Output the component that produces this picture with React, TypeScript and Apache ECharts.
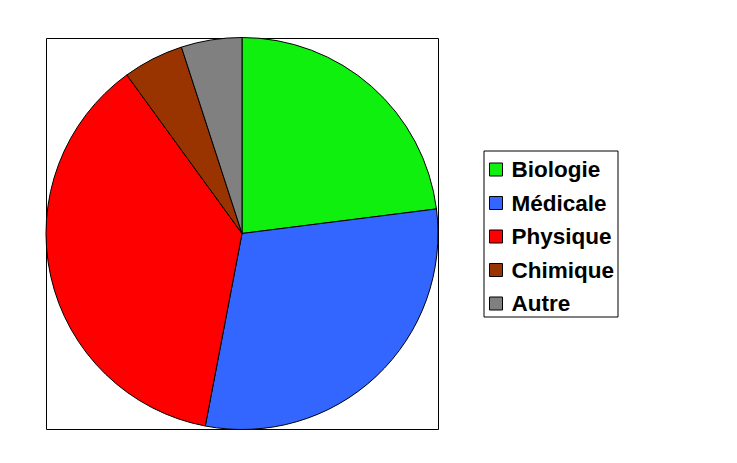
import React, { useEffect, useRef } from "react";
import * as echarts from "echarts";

const categories = ["Biologie", "Médicale", "Physique", "Chimique", "Autre"];
const values = [23, 30, 37, 5, 5];
const colors = ["#0ff00f", "#3366ff", "#ff0000", "#993300", "#808080"];

export default function App() {
  const ref = useRef<HTMLDivElement>(null);
  useEffect(() => {
    document.body.style.margin = "0";
    const chart = echarts.init(ref.current!, undefined, { renderer: "svg" });
    chart.setOption({
      animation: false,
      backgroundColor: "#ffffff",
      graphic: [
        {
          type: "rect",
          z: -1,
          shape: { x: 46.5, y: 38.5, width: 392, height: 391 },
          style: { fill: "none", stroke: "#000", lineWidth: 1 },
        },
      ],
      legend: {
        orient: "vertical",
        left: 484,
        top: 151,
        padding: [7, 4, 2, 5],
        borderColor: "#000",
        borderWidth: 1,
        itemWidth: 13,
        itemHeight: 13,
        itemGap: 10.5,
        icon: "rect",
        itemStyle: { borderColor: "#000", borderWidth: 1 },
        textStyle: {
          fontFamily: "Liberation Sans, Arial, sans-serif",
          fontWeight: "bold",
          fontSize: 22.5,
          lineHeight: 22,
          color: "#000",
          padding: [0, 0, 0, 4],
        },
        data: categories,
      },
      series: [
        {
          type: "pie",
          center: [242, 233.5],
          radius: 196,
          startAngle: 90,
          clockwise: true,
          label: { show: false },
          labelLine: { show: false },
          emphasis: { disabled: true },
          itemStyle: { borderColor: "#000", borderWidth: 1 },
          data: categories.map((name, i) => ({
            name,
            value: values[i],
            itemStyle: { color: colors[i] },
          })),
        },
      ],
    });
    return () => chart.dispose();
  }, []);
  return <div ref={ref} style={{ width: 737, height: 463 }} />;
}
